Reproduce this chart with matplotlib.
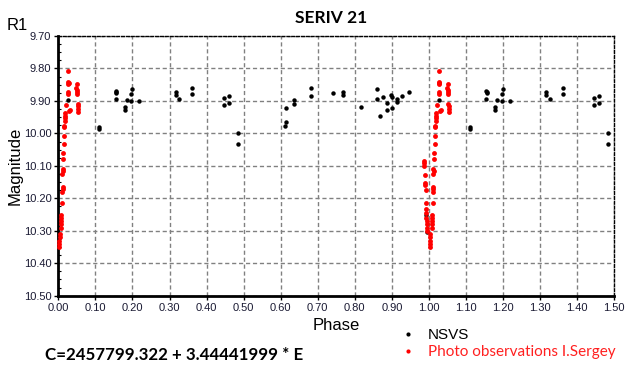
import numpy as np
import matplotlib.pyplot as plt
from matplotlib.ticker import MultipleLocator, FormatStrFormatter

# NSVS observations: phase (0..1) and magnitude
nsvs_phase = [0.026, 0.110, 0.111, 0.155, 0.156, 0.157, 0.155, 0.179, 0.179, 0.184,
              0.196, 0.196, 0.199, 0.218, 0.317, 0.317, 0.326, 0.362, 0.362,
              0.446, 0.446, 0.460, 0.460, 0.484, 0.484, 0.612, 0.613, 0.614,
              0.635, 0.635, 0.682, 0.683, 0.740, 0.767, 0.767, 0.816, 0.859,
              0.859, 0.868, 0.875, 0.886, 0.886, 0.897, 0.899, 0.899, 0.913,
              0.913, 0.927, 0.945, 0.992, 0.996]
nsvs_mag = [9.896, 9.980, 9.985, 9.869, 9.873, 9.877, 9.894, 9.918, 9.928, 9.897,
            9.880, 9.901, 9.863, 9.899, 9.872, 9.883, 9.894, 9.859, 9.878,
            9.891, 9.913, 9.885, 9.906, 9.998, 10.033, 9.976, 9.965, 9.921,
            9.897, 9.910, 9.884, 9.859, 9.875, 9.871, 9.882, 9.918, 9.862,
            9.893, 9.945, 9.887, 9.905, 9.927, 9.882, 9.888, 9.923, 9.895,
            9.902, 9.884, 9.873, 10.252, 10.304]

# Photo observations I.Sergey: phase and magnitude
photo_phase = [0.027, 0.026, 0.028, 0.027, 0.026, 0.027, 0.021, 0.032, 0.030, 0.019,
               0.018, 0.018, 0.018, 0.016, 0.016, 0.015, 0.015, 0.014, 0.014, 0.012,
               0.013, 0.011, 0.012, 0.012, 0.011, 0.010, 0.007, 0.007, 0.008, 0.007,
               0.008, 0.004, 0.004, 0.003, 0.003, 0.003,
               0.050, 0.049, 0.050, 0.051, 0.051, 0.052, 0.053, 0.053, 0.054,
               0.986, 0.986, 0.987, 0.989, 0.990, 0.990, 0.991, 0.992, 0.993,
               0.993, 0.993, 0.994, 0.994, 0.995, 0.996]
photo_mag = [9.808, 9.843, 9.846, 9.849, 9.874, 9.880, 9.913, 9.929, 9.932, 9.937,
             9.946, 9.953, 9.962, 9.976, 9.980, 10.007, 10.032, 10.059, 10.078, 10.111,
             10.117, 10.125, 10.164, 10.172, 10.180, 10.215, 10.250, 10.260, 10.270, 10.280,
             10.290, 10.310, 10.320, 10.330, 10.340, 10.350,
             9.848, 9.860, 9.865, 9.872, 9.880, 9.909, 9.915, 9.926, 9.935,
             10.085, 10.092, 10.100, 10.128, 10.154, 10.160, 10.174, 10.215, 10.233,
             10.245, 10.260, 10.270, 10.280, 10.290, 10.300]


def extend(phase, mag, upto=1.5):
    # repeat phased points one cycle further, as far as the axis goes
    p = np.array(phase)
    m = np.array(mag)
    keep = p + 1 <= upto
    return np.concatenate([p, p[keep] + 1]), np.concatenate([m, m[keep]])


W, H = 639, 372
fig = plt.figure(figsize=(W / 100, H / 100), dpi=100)
ax = fig.add_axes([58.3 / W, 1 - 295.7 / H, (614.3 - 58.3) / W, (295.7 - 36) / H])

px, pm = extend(nsvs_phase, nsvs_mag)
ax.plot(px, pm, 'o', color='black', markersize=3.2, markeredgewidth=0, clip_on=False, zorder=3)
rx, rm = extend(photo_phase, photo_mag)
ax.plot(rx, rm, 'o', color='#ff0000', markersize=3.5, markeredgewidth=0, clip_on=False, zorder=4)

ax.set_xlim(0, 1.5)
ax.set_ylim(10.5, 9.7)
ax.xaxis.set_major_locator(MultipleLocator(0.1))
ax.yaxis.set_major_locator(MultipleLocator(0.1))
ax.yaxis.set_minor_locator(MultipleLocator(0.025))
ax.xaxis.set_major_formatter(FormatStrFormatter('%.2f'))
ax.yaxis.set_major_formatter(FormatStrFormatter('%.2f'))
ax.tick_params(which='major', direction='out', length=3, width=1, labelsize=8,
               labelcolor='#1a1a33', pad=2)
ax.tick_params(which='minor', direction='in', length=2, width=0.8)
for lab in ax.get_xticklabels() + ax.get_yticklabels():
    lab.set_family('Liberation Sans')

ax.grid(True, which='major', color='#808080', linestyle=(0, (3, 2)), linewidth=1)
ax.spines['left'].set_linewidth(2)
ax.spines['bottom'].set_linewidth(2)
for s in ('top', 'right'):
    ax.spines[s].set_linestyle((0, (2, 1.5)))
    ax.spines[s].set_linewidth(1)

ax.set_xlabel('Phase', family='Liberation Sans', fontsize=12, labelpad=4)
ax.set_ylabel('Magnitude', family='Liberation Sans', fontsize=12, labelpad=0.5)

def px2fig(x, y):
    return x / W, 1 - y / H

fig.text(*px2fig(331, 18), 'SERIV 21', family='Lato', weight='bold', fontsize=12.5,
         ha='center', va='center')
fig.text(*px2fig(7, 26), 'R1', family='Liberation Sans', fontsize=12, ha='left', va='center')
fig.text(*px2fig(45, 355), 'C=2457799.322 + 3.44441999 * E', family='Lato', weight='bold',
         fontsize=12.2, ha='left', va='center')

# legend drawn by hand
fig.lines.append(plt.Line2D([408 / W], [1 - 334 / H], marker='o', color='black',
                            markersize=3, markeredgewidth=0, transform=fig.transFigure))
fig.lines.append(plt.Line2D([408 / W], [1 - 351 / H], marker='o', color='#ff0000',
                            markersize=3, markeredgewidth=0, transform=fig.transFigure))
fig.text(*px2fig(428, 335), 'NSVS', family='Liberation Sans', fontsize=11, ha='left', va='center')
fig.text(*px2fig(428, 352), 'Photo observations I.Sergey', family='Lato', fontsize=11,
         color='#ff2020', ha='left', va='center')

fig.savefig('out.png', dpi=100)
